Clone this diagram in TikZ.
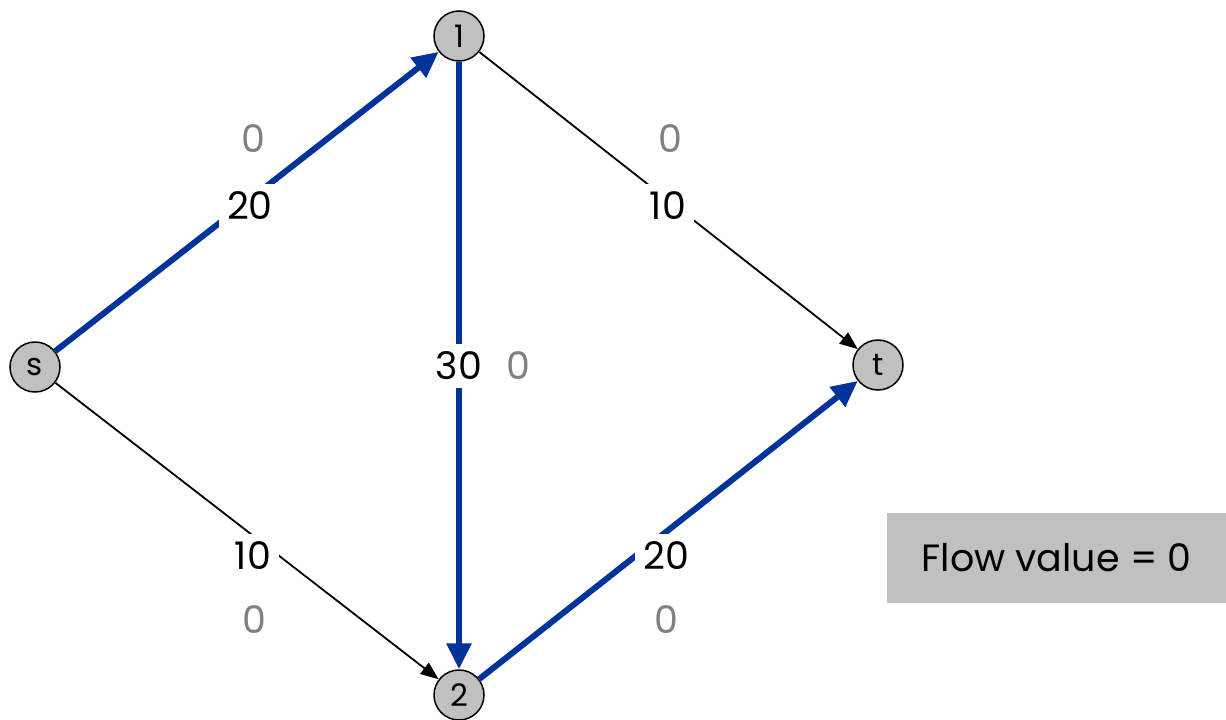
\documentclass[tikz,border=0pt]{standalone}
\usepackage{fontspec}
\setmainfont{Poppins}
\usetikzlibrary{arrows.meta}
\definecolor{flowblue}{RGB}{0,51,153}
\definecolor{nodegray}{RGB}{192,192,192}
\definecolor{labgray}{RGB}{128,128,128}
\tikzset{
  vert/.style={circle,draw=black,line width=1.5pt,fill=nodegray,minimum size=50pt,inner sep=0pt,font=\fontsize{31}{34}\selectfont},
  blueedge/.style={draw=flowblue,line width=6pt,-{Triangle[length=26pt,width=24pt]}},
  blackedge/.style={draw=black,line width=1.8pt,-{Triangle[length=18pt,width=14pt]}},
  caplab/.style={fill=white,inner sep=8pt,font=\fontsize{38}{42}\selectfont},
  flowlab/.style={text=labgray,font=\fontsize{38}{42}\selectfont},
}
\begin{document}
\begin{tikzpicture}[x=1pt,y=-1pt]
\useasboundingbox (0,0) rectangle (1226,720);
\node[vert] (s) at (35,367) {s};
\node[vert] (n1) at (459,36) {1};
\node[vert] (t) at (878,365) {t};
\node[vert] (n2) at (459,695) {2};
\draw[blueedge] (s) -- (n1);
\draw[blueedge] (n1) -- (n2);
\draw[blueedge] (n2) -- (t);
\draw[blackedge] (n1) -- (t);
\draw[blackedge] (s) -- (n2);
\node[caplab] (c1) at (250,206) {20};
\node[caplab] (c2) at (668,206) {10};
\node[caplab] (c3) at (459,366) {30};
\node[caplab] (c4) at (253,556) {10};
\node[caplab] (c5) at (666,556) {20};
\node[flowlab] (f1) at (253,139) {0};
\node[flowlab] (f2) at (670,139) {0};
\node[flowlab] (f3) at (518,366) {0};
\node[flowlab] (f4) at (254,620) {0};
\node[flowlab] (f5) at (666,620) {0};
\node[fill=nodegray,minimum width=339pt,minimum height=90pt,inner sep=0pt,font=\fontsize{38}{42}\selectfont] (fv) at (1056.5,558) {Flow value = 0};
\end{tikzpicture}
\end{document}
